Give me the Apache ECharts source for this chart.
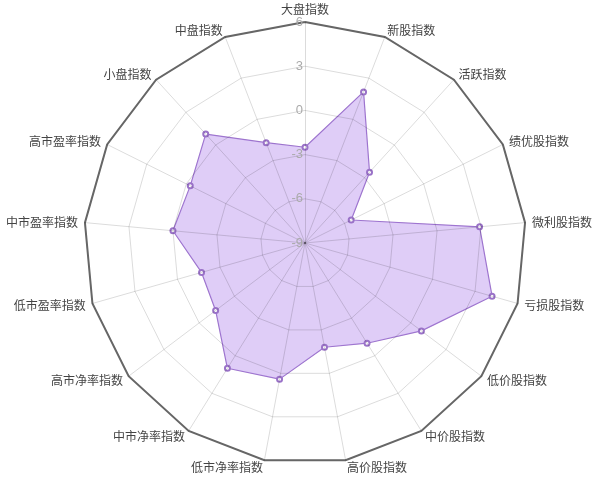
<!DOCTYPE html>
<html>
<head>
<meta charset="utf-8">
<title>指数雷达图</title>
<script src="https://cdn.jsdelivr.net/npm/echarts@6/dist/echarts.min.js"></script>
<style>
  html, body { margin: 0; padding: 0; background: #fff; }
  .chart { width: 600px; height: 479px; }
</style>
</head>
<body>
<div class="chart"></div>
<script>
// 指标名称（从顶部开始逆时针排列，和echarts的雷达图方向一致）
var indicatorNames = ["大盘指数", "中盘指数", "小盘指数", "高市盈率指数", "中市盈率指数", "低市盈率指数",
  "高市净率指数", "中市净率指数", "低市净率指数", "高价股指数", "中价股指数", "低价股指数",
  "亏损股指数", "微利股指数", "绩优股指数", "活跃指数", "新股指数"];
// 每个指标的数值
var indexValues = [-2.5, -1.7, 1, -0.3, 0, -1.7, -1.4, 1, 0.4, -1.8, -1, 0.9, 4.2, 2.9, -5.5, -2.5, 2];
// 刻度范围 -9 ~ 6，间隔 3
var axisMin = -9;
var axisMax = 6;
var axisStep = 3;

(function () {
  // 1.实例化对象
  var myChart = echarts.init(document.querySelector(".chart"));

  var indicators = indicatorNames.map(function (name, i) {
    var item = { name: name, min: axisMin, max: axisMax };
    // 只在第一根轴（大盘指数）上显示刻度文字
    if (i === 0) {
      item.axisLabel = { show: true };
    }
    return item;
  });
  // 外框只用来画深色的边
  var outerIndicators = indicatorNames.map(function (name) {
    return { name: name, min: axisMin, max: axisMax };
  });

  // 2.指定配置项和数据
  var option = {
    animation: false,
    radar: [{
      // 网格画在填充区域上面，半透明的线在紫色里会显得深一些
      z: 3,
      center: [305, 243],
      radius: 221,
      startAngle: 90,
      shape: 'polygon',
      splitNumber: (axisMax - axisMin) / axisStep,
      indicator: indicators,
      axisName: {
        color: '#444',
        fontSize: 12,
        fontFamily: 'Noto Sans CJK SC'
      },
      nameGap: 7,
      axisLabel: {
        show: false,
        color: '#aaa',
        fontSize: 13,
        margin: 2
      },
      axisTick: { show: false },
      axisLine: {
        lineStyle: { color: 'rgba(0,0,0,0.14)', width: 1 }
      },
      splitLine: {
        lineStyle: { color: 'rgba(0,0,0,0.14)', width: 1 }
      },
      splitArea: { show: false }
    }, {
      // 外圈深色边框
      z: 3,
      center: [305, 243],
      radius: 221,
      startAngle: 90,
      shape: 'polygon',
      splitNumber: 1,
      indicator: outerIndicators,
      axisName: { show: false },
      axisLine: { show: false },
      axisTick: { show: false },
      axisLabel: { show: false },
      splitLine: {
        lineStyle: { color: '#666', width: 2 }
      },
      splitArea: { show: false }
    }],
    series: [{
      name: '指数',
      type: 'radar',
      radarIndex: 0,
      z: 2,
      symbol: 'emptyCircle',
      symbolSize: 5,
      lineStyle: { color: '#9a72c8', width: 1.2 },
      itemStyle: { color: '#9a72c8', borderWidth: 1 },
      areaStyle: { color: 'rgba(175,130,235,0.4)', opacity: 1 },
      data: [{ value: indexValues, name: '指数' }]
    }]
  };
  // 3.把配置项给实例对象
  myChart.setOption(option);

  // 4.让图表随屏幕自适应
  window.addEventListener("resize", function () {
    myChart.resize();
  })
})();
</script>
</body>
</html>
